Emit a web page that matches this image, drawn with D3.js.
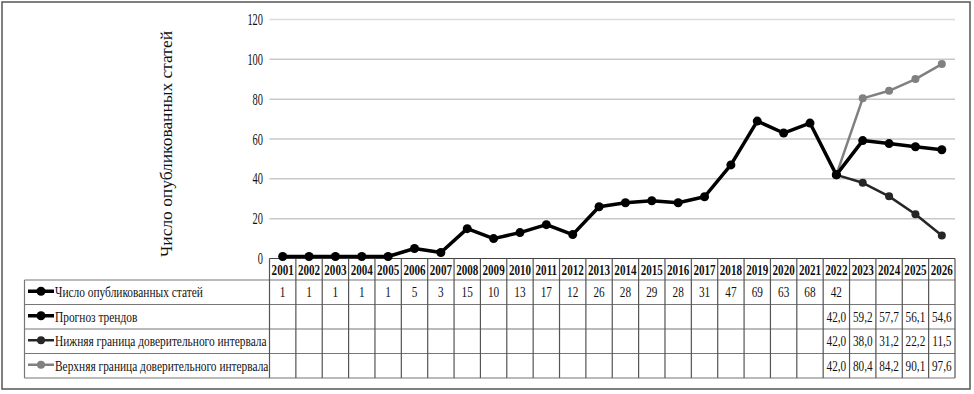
<!DOCTYPE html>
<html>
<head>
<meta charset="utf-8">
<script src="https://cdn.jsdelivr.net/npm/d3@7"></script>
<style>
  body { margin: 0; background: #fff; }
</style>
</head>
<body>
<div id="container"></div>
<script>
// data
const years = d3.range(2001, 2027).map(String)
const articles = [1, 1, 1, 1, 1, 5, 3, 15, 10, 13, 17, 12, 26, 28, 29, 28, 31, 47, 69, 63, 68, 42]
const forecastYears = ["2022", "2023", "2024", "2025", "2026"]
const trend = [42.0, 59.2, 57.7, 56.1, 54.6]
const lowerBound = [42.0, 38.0, 31.2, 22.2, 11.5]
const upperBound = [42.0, 80.4, 84.2, 90.1, 97.6]
const yTicks = [0, 20, 40, 60, 80, 100, 120]
const yTitle = "Число опубликованных статей"

const series = [
	{ name: "Число опубликованных статей", years: years.slice(0, articles.length), values: articles, color: "#000", width: 3.5, r: 4.5, fmt: d3.format("d") },
	{ name: "Прогноз трендов", years: forecastYears, values: trend, color: "#000", width: 3.5, r: 4.5, fmt: d3.format(".1f") },
	{ name: "Нижняя граница доверительного интервала", years: forecastYears, values: lowerBound, color: "#262626", width: 2.5, r: 4, fmt: d3.format(".1f") },
	{ name: "Верхняя граница доверительного интервала", years: forecastYears, values: upperBound, color: "#808080", width: 2.5, r: 4, fmt: d3.format(".1f") },
]

const width = 974, height = 394
const serif = '"Liberation Serif"'

const svg = d3.select("#container").append("svg")
	.attr("width", width)
	.attr("height", height)

// outer frame
svg.append("rect")
	.attr("x", 2).attr("y", 2)
	.attr("width", 968).attr("height", 387)
	.attr("fill", "none").attr("stroke", "#555").attr("stroke-width", 1.5)

const x = d3.scaleBand().domain(years).range([269.5, 955]).padding(0)
const y = d3.scaleLinear().domain([0, 120]).range([258.5, 19.5])

// condensed text helper (the original font is horizontally squeezed)
function ctext(g, tx, ty, str, anchor, size, weight, squeeze) {
	return g.append("text")
		.attr("transform", `translate(${tx},${ty}) scale(${squeeze},1)`)
		.attr("text-anchor", anchor || "start")
		.style("font-family", serif)
		.attr("font-size", size || 15)
		.attr("font-weight", weight || "normal")
		.attr("fill", "#111")
		.text(str)
}

// gridlines
svg.append("g")
	.selectAll("line")
	.data(yTicks.filter(d => d > 0))
	.join("line")
	.attr("x1", x.range()[0]).attr("x2", x.range()[1])
	.attr("y1", d => y(d)).attr("y2", d => y(d))
	.attr("stroke", d => d === 120 ? "#dcdcdc" : "#c8c8c8").attr("stroke-width", 1.5)

// y tick labels
const yAxisG = svg.append("g")
yTicks.forEach(t => ctext(yAxisG, 263, y(t) + 5.5, t, "end", 16, "normal", 0.65))

// y title
svg.append("text")
	.attr("transform", `translate(172,144) rotate(-90)`)
	.attr("text-anchor", "middle")
	.style("font-family", serif)
	.attr("font-size", 17)
	.attr("fill", "#111")
	.attr("textLength", 226)
	.attr("lengthAdjust", "spacingAndGlyphs")
	.text(yTitle)

// data table
const tableTop = 258.5
const headerH = 21.5
const rowH = 24.5
const tableLeft = 24.5
const table = svg.append("g")

// header row
table.append("line")
	.attr("x1", x.range()[0]).attr("x2", x.range()[1])
	.attr("y1", tableTop).attr("y2", tableTop)
	.attr("stroke", "#444").attr("stroke-width", 1.2)
years.forEach(yr => {
	ctext(table, x(yr) + x.bandwidth() / 2, tableTop + 16, yr, "middle", 15, "bold", 0.74)
})

const rowsTop = tableTop + headerH
const rowsBottom = rowsTop + rowH * series.length

// horizontal rules
d3.range(series.length + 1).forEach(i => {
	table.append("line")
		.attr("x1", tableLeft).attr("x2", x.range()[1])
		.attr("y1", rowsTop + i * rowH).attr("y2", rowsTop + i * rowH)
		.attr("stroke", "#777").attr("stroke-width", 1.2)
})
// vertical rules
table.append("line")
	.attr("x1", tableLeft).attr("x2", tableLeft)
	.attr("y1", rowsTop).attr("y2", rowsBottom)
	.attr("stroke", "#777").attr("stroke-width", 1.2)
years.concat(["end"]).forEach((yr, i) => {
	const xx = i < years.length ? x(yr) : x.range()[1]
	table.append("line")
		.attr("x1", xx).attr("x2", xx)
		.attr("y1", tableTop).attr("y2", rowsBottom)
		.attr("stroke", "#555").attr("stroke-width", 1.2)
})

// rows: legend key + values
series.forEach((s, i) => {
	const cy = rowsTop + i * rowH + rowH / 2
	table.append("line")
		.attr("x1", 28).attr("x2", 54)
		.attr("y1", cy - 1).attr("y2", cy - 1)
		.attr("stroke", s.color).attr("stroke-width", s.width)
	table.append("circle")
		.attr("cx", 41).attr("cy", cy - 1).attr("r", s.r)
		.attr("fill", s.color)
	ctext(table, 55, cy + 5, s.name, "start", 15, "normal", 0.76)
	s.values.forEach((v, j) => {
		const label = s.fmt(v).replace(".", ",")
		ctext(table, x(s.years[j]) + x.bandwidth() / 2, cy + 5, label, "middle", 15, "normal", 0.75)
	})
})

// lines (draw bounds first, then trend, then observed)
const line = d3.line()
	.x(d => x(d.year) + x.bandwidth() / 2)
	.y(d => y(d.value))

const plot = svg.append("g")
;[series[3], series[2], series[1], series[0]].forEach(s => {
	const pts = s.values.map((v, j) => ({ year: s.years[j], value: v }))
	plot.append("path")
		.datum(pts)
		.attr("d", line)
		.attr("fill", "none")
		.attr("stroke", s.color)
		.attr("stroke-width", s.width)
		.attr("stroke-linejoin", "round")
	plot.selectAll(null)
		.data(pts)
		.join("circle")
		.attr("cx", d => x(d.year) + x.bandwidth() / 2)
		.attr("cy", d => y(d.value))
		.attr("r", s.r)
		.attr("fill", s.color)
})
</script>
</body>
</html>
